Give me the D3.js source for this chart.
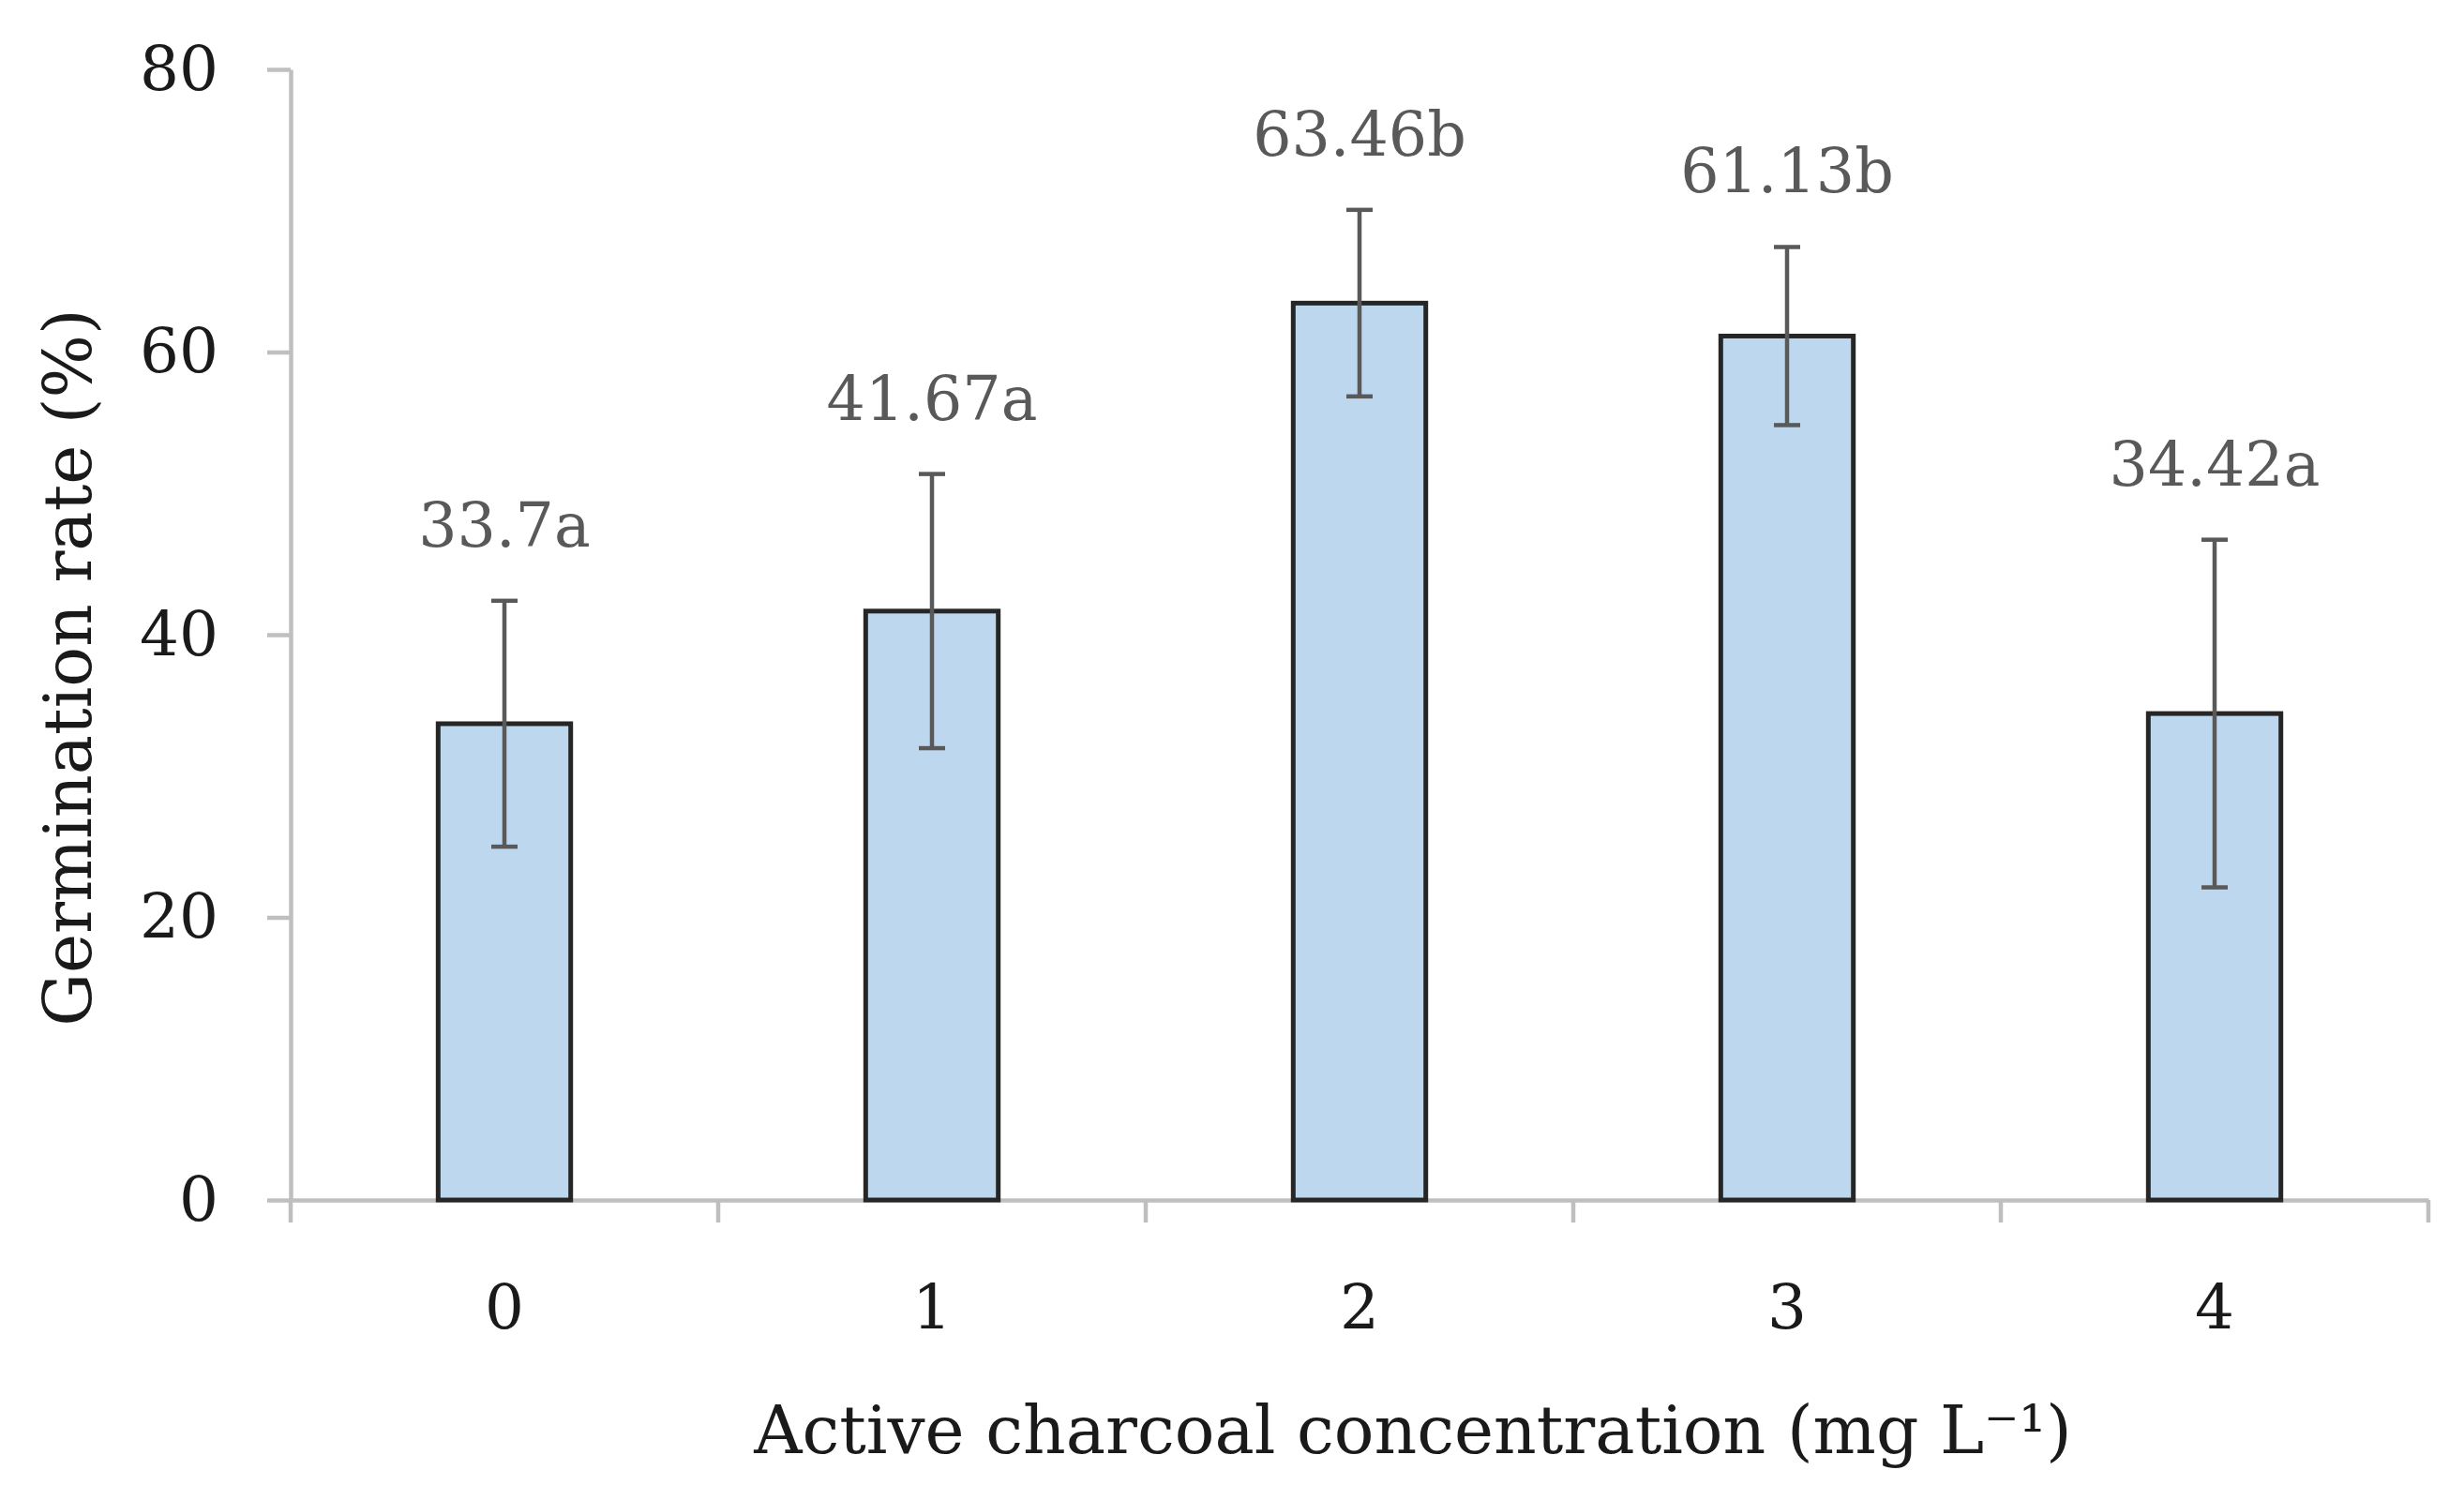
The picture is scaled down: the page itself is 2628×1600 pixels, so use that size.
<!DOCTYPE html>
<html>
<head>
<meta charset="utf-8">
<script src="https://cdn.jsdelivr.net/npm/d3@7"></script>
<style>
  body { margin: 0; background: #fff; }
  text { font-family: "DejaVu Serif", serif; }
</style>
</head>
<body>
<div id="chart"></div>
<script>
/*
 * Germination rate vs active charcoal concentration
 */

var concentrations = ["0", "1", "2", "3", "4"];
var germination = [33.7, 41.67, 63.46, 61.13, 34.42];
var errors = [8.7, 9.7, 6.6, 6.3, 12.3];
var letters = ["a", "a", "b", "b", "a"];
var yTicks = [0, 20, 40, 60, 80];

var COLORS = {
  bar_fill: "#BDD7EE",
  bar_stroke: "#262626",
  error: "#595959",
  axis: "#BFBFBF",
  label: "#595959",
  text: "#1a1a1a"
};

var width = 2628, height = 1600;

var svg = d3.select("#chart").append("svg")
  .attr("width", width).attr("height", height);

var y = d3.scaleLinear().domain([0, 80]).range([1280, 74]);
var x = d3.scaleBand().domain(concentrations).range([310, 2590]).padding(0);
var barW = x.bandwidth() * 0.31;

// y axis
var yAxis = svg.append("g").attr("transform", "translate(310,0)")
  .call(d3.axisLeft(y).tickValues(yTicks).tickSize(25).tickPadding(52).tickSizeOuter(0));
yAxis.select(".domain").attr("stroke", COLORS.axis).attr("stroke-width", 4.5);
yAxis.selectAll(".tick line").attr("stroke", COLORS.axis).attr("stroke-width", 4.5);
yAxis.selectAll(".tick text").attr("font-size", 66).attr("font-family", "DejaVu Serif")
  .attr("fill", COLORS.text);

// x axis
var xAxis = svg.append("g").attr("transform", "translate(0,1280)")
  .call(d3.axisBottom(x).tickSize(0).tickSizeOuter(0));
xAxis.select(".domain").attr("stroke", COLORS.axis).attr("stroke-width", 4.5);
xAxis.selectAll(".tick text").attr("font-size", 66).attr("font-family", "DejaVu Serif")
  .attr("fill", COLORS.text).attr("y", 137).attr("dy", 0);

// category boundary ticks
var bounds = d3.range(concentrations.length + 1).map(function(i){ return 310 + i * x.step(); });
svg.append("g").selectAll("line").data(bounds).enter().append("line")
  .attr("x1", function(d){ return d; }).attr("x2", function(d){ return d; })
  .attr("y1", 1280).attr("y2", 1304)
  .attr("stroke", COLORS.axis).attr("stroke-width", 4.5);

// bars
svg.append("g").selectAll("rect").data(germination).enter().append("rect")
  .attr("x", function(d, i){ return x(concentrations[i]) + x.bandwidth() / 2 - barW / 2; })
  .attr("y", function(d){ return y(d); })
  .attr("width", barW)
  .attr("height", function(d){ return y(0) - y(d); })
  .attr("fill", COLORS.bar_fill)
  .attr("stroke", COLORS.bar_stroke)
  .attr("stroke-width", 5);

// error bars
var eb = svg.append("g").attr("stroke", COLORS.error).attr("stroke-width", 4.5);
germination.forEach(function(d, i){
  var cx = x(concentrations[i]) + x.bandwidth() / 2;
  var top = y(d + errors[i]), bot = y(d - errors[i]);
  eb.append("line").attr("x1", cx).attr("x2", cx).attr("y1", top).attr("y2", bot);
  eb.append("line").attr("x1", cx - 14).attr("x2", cx + 14).attr("y1", top).attr("y2", top);
  eb.append("line").attr("x1", cx - 14).attr("x2", cx + 14).attr("y1", bot).attr("y2", bot);
});

// value labels
svg.append("g").selectAll("text").data(germination).enter().append("text")
  .attr("x", function(d, i){ return x(concentrations[i]) + x.bandwidth() / 2; })
  .attr("y", function(d, i){ return y(d + errors[i]) - 58; })
  .attr("text-anchor", "middle")
  .attr("font-size", 65)
  .attr("fill", COLORS.label)
  .text(function(d, i){ return d + letters[i]; });

// axis titles
svg.append("text")
  .attr("transform", "translate(97,712) rotate(-90)")
  .attr("text-anchor", "middle")
  .attr("font-size", 71)
  .attr("fill", COLORS.text)
  .text("Germination rate (%)");

svg.append("text")
  .attr("x", 1507).attr("y", 1550)
  .attr("text-anchor", "middle")
  .attr("font-size", 71)
  .attr("fill", COLORS.text)
  .text("Active charcoal concentration (mg L\u207B\u00B9)");
</script>
</body>
</html>
